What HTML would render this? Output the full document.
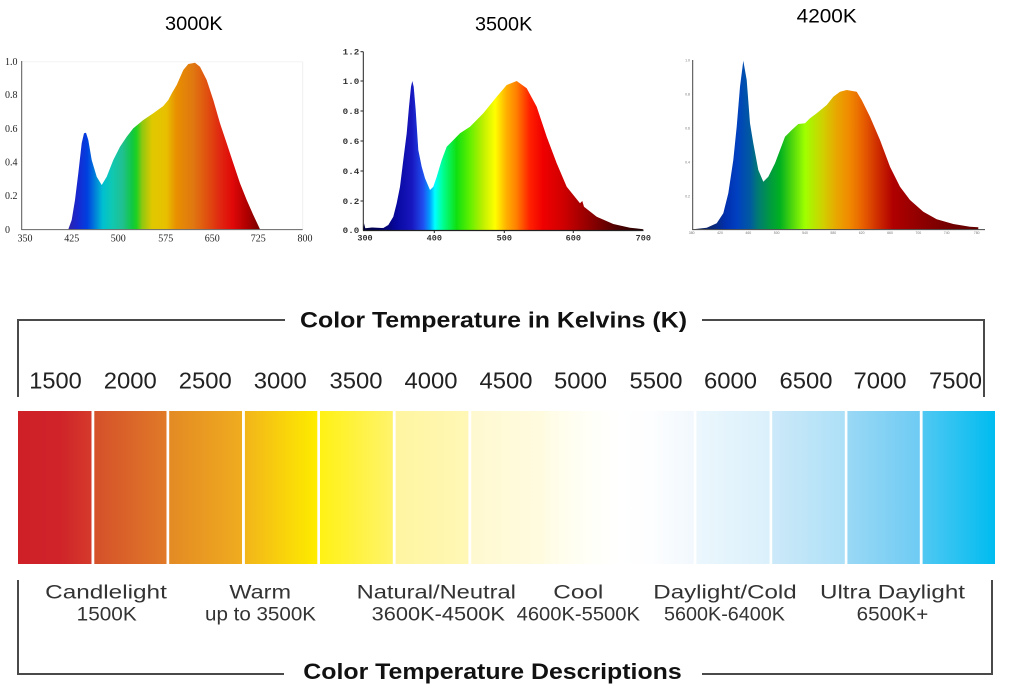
<!DOCTYPE html>
<html>
<head>
<meta charset="utf-8">
<style>
html,body{margin:0;padding:0;background:#fff;}
svg{display:block;}
</style>
</head>
<body>
<svg width="1010" height="695" viewBox="0 0 1010 695" xmlns="http://www.w3.org/2000/svg">
<defs>
  <linearGradient id="sp1" gradientUnits="userSpaceOnUse" x1="21" y1="0" x2="303" y2="0">
    <stop offset="0" stop-color="#d080c0"/>
    <stop offset="0.16" stop-color="#3020a0"/>
    <stop offset="0.2" stop-color="#1828d0"/>
    <stop offset="0.235" stop-color="#0040e0"/>
    <stop offset="0.27" stop-color="#0090d8"/>
    <stop offset="0.29" stop-color="#00c0d0"/>
    <stop offset="0.325" stop-color="#10c8b0"/>
    <stop offset="0.36" stop-color="#20c090"/>
    <stop offset="0.395" stop-color="#10c840"/>
    <stop offset="0.41" stop-color="#20d020"/>
    <stop offset="0.43" stop-color="#90c810"/>
    <stop offset="0.465" stop-color="#e0c800"/>
    <stop offset="0.515" stop-color="#e8c000"/>
    <stop offset="0.55" stop-color="#e89000"/>
    <stop offset="0.61" stop-color="#e07810"/>
    <stop offset="0.66" stop-color="#e05010"/>
    <stop offset="0.705" stop-color="#e02810"/>
    <stop offset="0.75" stop-color="#e00808"/>
    <stop offset="0.8" stop-color="#b00000"/>
    <stop offset="0.84" stop-color="#800000"/>
    <stop offset="1" stop-color="#800000"/>
  </linearGradient>
  <linearGradient id="sp2" gradientUnits="userSpaceOnUse" x1="363" y1="0" x2="644" y2="0">
    <stop offset="0" stop-color="#000040"/>
    <stop offset="0.06" stop-color="#000060"/>
    <stop offset="0.12" stop-color="#0808a0"/>
    <stop offset="0.175" stop-color="#1818c0"/>
    <stop offset="0.215" stop-color="#2050f0"/>
    <stop offset="0.238" stop-color="#00a0ff"/>
    <stop offset="0.256" stop-color="#00ffff"/>
    <stop offset="0.285" stop-color="#00ff90"/>
    <stop offset="0.333" stop-color="#10e010"/>
    <stop offset="0.38" stop-color="#60f000"/>
    <stop offset="0.428" stop-color="#c0f000"/>
    <stop offset="0.47" stop-color="#ffff00"/>
    <stop offset="0.51" stop-color="#ffb000"/>
    <stop offset="0.546" stop-color="#ff8000"/>
    <stop offset="0.594" stop-color="#ff2000"/>
    <stop offset="0.64" stop-color="#f00000"/>
    <stop offset="0.712" stop-color="#d00000"/>
    <stop offset="0.807" stop-color="#900000"/>
    <stop offset="0.9" stop-color="#500000"/>
    <stop offset="1" stop-color="#200000"/>
  </linearGradient>
  <linearGradient id="sp3" gradientUnits="userSpaceOnUse" x1="693" y1="0" x2="979" y2="0">
    <stop offset="0" stop-color="#0a1a40"/>
    <stop offset="0.077" stop-color="#0a2a80"/>
    <stop offset="0.115" stop-color="#0030b0"/>
    <stop offset="0.154" stop-color="#0040c0"/>
    <stop offset="0.2" stop-color="#005aa0"/>
    <stop offset="0.224" stop-color="#007878"/>
    <stop offset="0.27" stop-color="#009a40"/>
    <stop offset="0.304" stop-color="#00b020"/>
    <stop offset="0.339" stop-color="#40d010"/>
    <stop offset="0.392" stop-color="#a0ff00"/>
    <stop offset="0.455" stop-color="#d0d000"/>
    <stop offset="0.5" stop-color="#e8a800"/>
    <stop offset="0.549" stop-color="#f08800"/>
    <stop offset="0.594" stop-color="#e86000"/>
    <stop offset="0.643" stop-color="#d03000"/>
    <stop offset="0.699" stop-color="#b00000"/>
    <stop offset="0.794" stop-color="#900000"/>
    <stop offset="0.909" stop-color="#700000"/>
    <stop offset="1" stop-color="#600000"/>
  </linearGradient>

  <linearGradient id="g1" x1="0" x2="1" y1="0" y2="0"><stop offset="0" stop-color="#cf2028"/><stop offset="0.55" stop-color="#cf2229"/><stop offset="1" stop-color="#d53a2b"/></linearGradient>
  <linearGradient id="g2" x1="0" x2="1" y1="0" y2="0"><stop offset="0" stop-color="#d5502a"/><stop offset="1" stop-color="#e07a28"/></linearGradient>
  <linearGradient id="g3" x1="0" x2="1" y1="0" y2="0"><stop offset="0" stop-color="#e38a24"/><stop offset="1" stop-color="#f0ac1f"/></linearGradient>
  <linearGradient id="g4" x1="0" x2="1" y1="0" y2="0"><stop offset="0" stop-color="#f2b51b"/><stop offset="0.92" stop-color="#fde800"/><stop offset="1" stop-color="#ffec00"/></linearGradient>
  <linearGradient id="g5" x1="0" x2="1" y1="0" y2="0"><stop offset="0" stop-color="#fff214"/><stop offset="1" stop-color="#fff36c"/></linearGradient>
  <linearGradient id="g6" x1="0" x2="1" y1="0" y2="0"><stop offset="0" stop-color="#fff5a0"/><stop offset="1" stop-color="#fff7b6"/></linearGradient>
  <linearGradient id="g7" x1="0" x2="1" y1="0" y2="0"><stop offset="0" stop-color="#fff9d0"/><stop offset="1" stop-color="#fffbe0"/></linearGradient>
  <linearGradient id="g8" x1="0" x2="1" y1="0" y2="0"><stop offset="0" stop-color="#fffce4"/><stop offset="0.6" stop-color="#fffff8"/><stop offset="1" stop-color="#ffffff"/></linearGradient>
  <linearGradient id="g9" x1="0" x2="1" y1="0" y2="0"><stop offset="0" stop-color="#ffffff"/><stop offset="0.4" stop-color="#fdfeff"/><stop offset="1" stop-color="#f1f8fd"/></linearGradient>
  <linearGradient id="g10" x1="0" x2="1" y1="0" y2="0"><stop offset="0" stop-color="#ecf7fd"/><stop offset="1" stop-color="#daf0fb"/></linearGradient>
  <linearGradient id="g11" x1="0" x2="1" y1="0" y2="0"><stop offset="0" stop-color="#cce9f9"/><stop offset="1" stop-color="#ade0f7"/></linearGradient>
  <linearGradient id="g12" x1="0" x2="1" y1="0" y2="0"><stop offset="0" stop-color="#9ad8f5"/><stop offset="1" stop-color="#6ecbf3"/></linearGradient>
  <linearGradient id="g13" x1="0" x2="1" y1="0" y2="0"><stop offset="0" stop-color="#50c8f2"/><stop offset="1" stop-color="#00bcf0"/></linearGradient>
</defs>

<!-- ===== Titles of spectra ===== -->
<g font-family="'Liberation Sans', 'DejaVu Sans', sans-serif" font-size="19" fill="#000">
  <text x="165" y="30" textLength="57.7" lengthAdjust="spacingAndGlyphs">3000K</text>
  <text x="475" y="30.7" textLength="57.3" lengthAdjust="spacingAndGlyphs">3500K</text>
  <text x="796.7" y="22.3" textLength="60" lengthAdjust="spacingAndGlyphs">4200K</text>
</g>

<!-- ===== Chart 1 (3000K) ===== -->
<g>
  <line x1="21.7" y1="61.7" x2="302.7" y2="61.7" stroke="#f4f4f4" stroke-width="1"/>
  <line x1="302.7" y1="61.7" x2="302.7" y2="229.3" stroke="#f0f0f0" stroke-width="1"/>
  <path d="M21.7,229.3 L68.3,229.3 L71.7,220 L75,200 L78.3,173.3 L81.7,143.3 L84,133.3 L86,132.7 L88.3,140 L91.7,160 L96.7,176.7 L101.7,185 L106.7,176.7 L113.3,160 L120,146.7 L126.7,136.7 L133.3,128.3 L143.3,120 L153.3,113.3 L163.3,106 L168.3,100 L172,93 L176.7,85 L183.3,70 L188.3,64 L195,62.7 L200,66.7 L206.7,80 L213.3,100 L220,123.3 L226.7,143.3 L233.3,163.3 L240,183.3 L246.7,200 L253.3,215 L260,229.3 Z" fill="url(#sp1)"/>
  <line x1="21.7" y1="61" x2="21.7" y2="229.8" stroke="#555" stroke-width="1"/>
  <line x1="21.2" y1="229.6" x2="302.7" y2="229.6" stroke="#666" stroke-width="1"/>
  <g font-family="'Liberation Serif', serif" font-size="10" fill="#222">
    <text x="5" y="65">1.0</text>
    <text x="5" y="97.8">0.8</text>
    <text x="5" y="131.8">0.6</text>
    <text x="5" y="165.5">0.4</text>
    <text x="5" y="198.8">0.2</text>
    <text x="5" y="232.8">0</text>
  </g>
  <g font-family="'Liberation Serif', serif" font-size="10" fill="#222" text-anchor="middle">
    <text x="25" y="241.5">350</text>
    <text x="71.7" y="241.5">425</text>
    <text x="118.3" y="241.5">500</text>
    <text x="165.7" y="241.5">575</text>
    <text x="212.3" y="241.5">650</text>
    <text x="258.3" y="241.5">725</text>
    <text x="305" y="241.5">800</text>
  </g>
</g>

<!-- ===== Chart 2 (3500K) ===== -->
<g>
  <path d="M363.3,230 L364,223.3 L365.3,228.3 L372,227.5 L383.3,228 L388.3,225 L393.3,216.7 L396.7,203.3 L400,186.7 L403.3,160 L406.7,133.3 L409,106.7 L411,86.7 L412.3,81 L413.7,86.7 L415.7,110 L418.3,150 L421.7,166.7 L425,178.3 L430,190 L433.3,186.7 L436.7,176.7 L441.7,160 L446.7,146.7 L451.7,141.7 L460,133.3 L470,126.7 L483.3,113.3 L496.7,96.7 L506.7,85 L516.7,81 L526.7,88.3 L536.7,106.7 L546.7,136.7 L556.7,163.3 L566.7,186.7 L580,203.3 L582.3,201 L584,206.7 L596.7,216.7 L613.3,224 L630,227.7 L643.3,229.3 L643.3,230 Z" fill="url(#sp2)"/>
  <line x1="363.3" y1="51.7" x2="363.3" y2="230.5" stroke="#222" stroke-width="1"/>
  <line x1="363" y1="230.5" x2="643.5" y2="230.5" stroke="#222" stroke-width="1.2"/>
  <g stroke="#222" stroke-width="1">
    <line x1="360.5" y1="51.7" x2="363.3" y2="51.7"/>
    <line x1="360.5" y1="81" x2="363.3" y2="81"/>
    <line x1="360.5" y1="111" x2="363.3" y2="111"/>
    <line x1="360.5" y1="141" x2="363.3" y2="141"/>
    <line x1="360.5" y1="171" x2="363.3" y2="171"/>
    <line x1="360.5" y1="201" x2="363.3" y2="201"/>
    <line x1="434.3" y1="230.5" x2="434.3" y2="233"/>
    <line x1="504.3" y1="230.5" x2="504.3" y2="233"/>
    <line x1="573.3" y1="230.5" x2="573.3" y2="233"/>
  </g>
  <g font-family="'Liberation Mono', monospace" font-weight="bold" font-size="8.5" fill="#333" text-anchor="end">
    <text x="359.3" y="54.5" textLength="16.6" lengthAdjust="spacingAndGlyphs">1.2</text>
    <text x="359.3" y="83.8" textLength="16.6" lengthAdjust="spacingAndGlyphs">1.0</text>
    <text x="359.3" y="113.8" textLength="16.6" lengthAdjust="spacingAndGlyphs">0.8</text>
    <text x="359.3" y="143.8" textLength="16.6" lengthAdjust="spacingAndGlyphs">0.6</text>
    <text x="359.3" y="173.8" textLength="16.6" lengthAdjust="spacingAndGlyphs">0.4</text>
    <text x="359.3" y="203.8" textLength="16.6" lengthAdjust="spacingAndGlyphs">0.2</text>
    <text x="359.3" y="232.8" textLength="16.6" lengthAdjust="spacingAndGlyphs">0.0</text>
  </g>
  <g font-family="'Liberation Mono', monospace" font-weight="bold" font-size="8.5" fill="#333" text-anchor="middle">
    <text x="365" y="240.5">300</text>
    <text x="434.3" y="240.5">400</text>
    <text x="504.3" y="240.5">500</text>
    <text x="573.3" y="240.5">600</text>
    <text x="643.3" y="240.5">700</text>
  </g>
</g>

<!-- ===== Chart 3 (4200K) ===== -->
<g>
  <path d="M693.3,229.3 L706.7,227.7 L716.7,223.3 L723.3,213.3 L728.3,193.3 L733.3,160 L736.7,126.7 L740,86.7 L743.3,60.7 L746.7,80 L750,123.3 L753.3,143.3 L758.3,170 L763.3,181.7 L768.3,176.7 L775,163.3 L780,150 L785,136.7 L791.7,130 L798.3,124 L805,123.3 L810,118.3 L816.7,113.3 L826.7,105 L833.3,96.7 L840,91.7 L846.7,90 L856.7,91.7 L861.7,100 L870,116.7 L880,140 L890,166.7 L900,186.7 L910,200 L923.3,211.7 L936.7,219.3 L953.3,224 L970,226.7 L978.3,227.3 L978.3,229.3 Z" fill="url(#sp3)"/>
  <line x1="692.7" y1="60" x2="692.7" y2="229.8" stroke="#444" stroke-width="1"/>
  <line x1="692.2" y1="229.6" x2="985" y2="229.6" stroke="#444" stroke-width="1"/>
  <g font-family="'Liberation Sans', sans-serif" font-size="3.5" fill="#777" text-anchor="end">
    <text x="690" y="61.5">1.0</text>
    <text x="690" y="95.5">0.8</text>
    <text x="690" y="129.5">0.6</text>
    <text x="690" y="163.5">0.4</text>
    <text x="690" y="197.5">0.2</text>
  </g>
  <g font-family="'Liberation Sans', sans-serif" font-size="3.5" fill="#777" text-anchor="middle">
    <text x="691.7" y="234">380</text>
    <text x="720" y="234">420</text>
    <text x="748.3" y="234">460</text>
    <text x="776.7" y="234">500</text>
    <text x="805" y="234">540</text>
    <text x="833.3" y="234">580</text>
    <text x="861.7" y="234">620</text>
    <text x="890" y="234">660</text>
    <text x="918.3" y="234">700</text>
    <text x="946.7" y="234">740</text>
    <text x="976.7" y="234">780</text>
  </g>
</g>

<!-- ===== Top bracket ===== -->
<g stroke="#4a4a4a" stroke-width="2" fill="none">
  <polyline points="18,397 18,320 285,320"/>
  <polyline points="702,320 984,320 984,397"/>
</g>
<text x="300" y="327.5" font-family="'Liberation Sans', sans-serif" font-weight="bold" font-size="22" fill="#111" textLength="387" lengthAdjust="spacingAndGlyphs">Color Temperature in Kelvins (K)</text>

<!-- Numbers -->
<g font-family="'Liberation Sans', sans-serif" font-size="23" fill="#222" text-anchor="middle">
  <text x="55.5" y="388.3" textLength="52.5" lengthAdjust="spacingAndGlyphs">1500</text>
  <text x="130.3" y="388.3" textLength="53" lengthAdjust="spacingAndGlyphs">2000</text>
  <text x="205.3" y="388.3" textLength="53" lengthAdjust="spacingAndGlyphs">2500</text>
  <text x="280.3" y="388.3" textLength="53" lengthAdjust="spacingAndGlyphs">3000</text>
  <text x="356" y="388.3" textLength="53" lengthAdjust="spacingAndGlyphs">3500</text>
  <text x="431" y="388.3" textLength="53" lengthAdjust="spacingAndGlyphs">4000</text>
  <text x="506" y="388.3" textLength="53" lengthAdjust="spacingAndGlyphs">4500</text>
  <text x="580.5" y="388.3" textLength="53" lengthAdjust="spacingAndGlyphs">5000</text>
  <text x="656" y="388.3" textLength="53" lengthAdjust="spacingAndGlyphs">5500</text>
  <text x="730.5" y="388.3" textLength="53" lengthAdjust="spacingAndGlyphs">6000</text>
  <text x="806" y="388.3" textLength="53" lengthAdjust="spacingAndGlyphs">6500</text>
  <text x="880" y="388.3" textLength="53" lengthAdjust="spacingAndGlyphs">7000</text>
  <text x="955.5" y="388.3" textLength="53" lengthAdjust="spacingAndGlyphs">7500</text>
</g>

<!-- ===== Color bar ===== -->
<g>
  <rect x="18" y="411" width="73.5" height="153" fill="url(#g1)"/>
  <rect x="94.3" y="411" width="72.2" height="153" fill="url(#g2)"/>
  <rect x="169.2" y="411" width="72.8" height="153" fill="url(#g3)"/>
  <rect x="244.9" y="411" width="72.4" height="153" fill="url(#g4)"/>
  <rect x="320" y="411" width="72.8" height="153" fill="url(#g5)"/>
  <rect x="395.6" y="411" width="72.8" height="153" fill="url(#g6)"/>
  <rect x="471.2" y="411" width="73.8" height="153" fill="url(#g7)"/>
  <rect x="544.6" y="411" width="75.4" height="153" fill="url(#g8)"/>
  <rect x="619.6" y="411" width="74.2" height="153" fill="url(#g9)"/>
  <rect x="696.4" y="411" width="73.2" height="153" fill="url(#g10)"/>
  <rect x="772.2" y="411" width="72.6" height="153" fill="url(#g11)"/>
  <rect x="847.4" y="411" width="72.4" height="153" fill="url(#g12)"/>
  <rect x="922.6" y="411" width="72.4" height="153" fill="url(#g13)"/>
</g>

<!-- ===== Descriptions ===== -->
<g font-family="'Liberation Sans', sans-serif" font-size="19" fill="#333" text-anchor="middle">
  <text x="106" y="598.3" textLength="121.7" lengthAdjust="spacingAndGlyphs">Candlelight</text>
  <text x="106.7" y="620.3" textLength="60" lengthAdjust="spacingAndGlyphs">1500K</text>
  <text x="260.2" y="598.3" textLength="61.7" lengthAdjust="spacingAndGlyphs">Warm</text>
  <text x="260.5" y="620.3" textLength="111" lengthAdjust="spacingAndGlyphs">up to 3500K</text>
  <text x="436.3" y="598.3" textLength="159.3" lengthAdjust="spacingAndGlyphs">Natural/Neutral</text>
  <text x="438.3" y="620.3" textLength="133.3" lengthAdjust="spacingAndGlyphs">3600K-4500K</text>
  <text x="578.3" y="598.3" textLength="50" lengthAdjust="spacingAndGlyphs">Cool</text>
  <text x="578.3" y="620.3" textLength="123.3" lengthAdjust="spacingAndGlyphs">4600K-5500K</text>
  <text x="725" y="598.3" textLength="143.4" lengthAdjust="spacingAndGlyphs">Daylight/Cold</text>
  <text x="724.5" y="620.3" textLength="121" lengthAdjust="spacingAndGlyphs">5600K-6400K</text>
  <text x="892.5" y="598.3" textLength="145" lengthAdjust="spacingAndGlyphs">Ultra Daylight</text>
  <text x="892.5" y="620.3" textLength="71.6" lengthAdjust="spacingAndGlyphs">6500K+</text>
</g>

<!-- ===== Bottom bracket ===== -->
<g stroke="#4a4a4a" stroke-width="2" fill="none">
  <polyline points="18,580 18,674 284,674"/>
  <polyline points="702,674 992,674 992,580"/>
</g>
<text x="303.3" y="679" font-family="'Liberation Sans', sans-serif" font-weight="bold" font-size="22" fill="#111" textLength="378.4" lengthAdjust="spacingAndGlyphs">Color Temperature Descriptions</text>
</svg>
</body>
</html>
